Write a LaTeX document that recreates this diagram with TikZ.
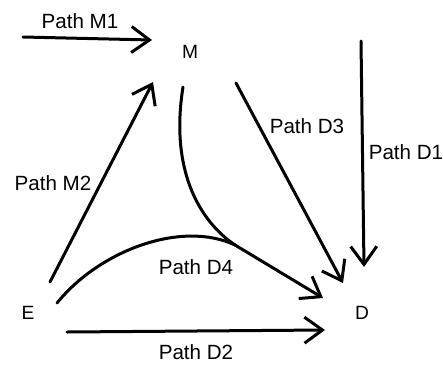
\documentclass[tikz,border=0pt]{standalone}
\usepackage{fontspec}
\setmainfont{Liberation Sans}
\usetikzlibrary{arrows.meta,calc}
\begin{document}
\begin{tikzpicture}[x=0.5pt,y=-0.5pt,
  vtx/.style={inner sep=0pt,font=\fontsize{9.6}{11}\selectfont},
  lbl/.style={inner sep=0pt,font=\fontsize{10.3}{12}\selectfont},
  arr/.style={line width=1.5pt,line cap=round,-{Straight Barb[length=9pt,width=13pt,line width=1.5pt]}},
  ln/.style={line width=1.5pt,line cap=round}]
\useasboundingbox (0,0) rectangle (443,364);
\node[vtx] (M) at (190,52) {M};
\node[vtx] (E) at (28,313) {E};
\node[vtx] (D) at (362,313) {D};
\coordinate (m1s) at (23,37);
\coordinate (d1s) at (361,41);
\coordinate (j) at (235,245);
% connectors
\draw[arr] (m1s) -- ($(M)+(-38,-12)$);
\draw[arr] ($(E)+(22,-31)$) -- ($(M)+(-37,30)$);
\draw[arr] ($(M)+(46,31)$) -- ($(D)+(-19,-30)$);
\draw[arr] (d1s) -- ($(D)+(2,-46)$);
\draw[arr] ($(E)+(39,19)$) -- ($(D)+(-37,17)$);
\draw[ln] ($(E)+(29,-10)$) .. controls (100,250) and (182,220) .. (j);
\draw[ln] ($(M)+(-7,35)$) .. controls (170,168) and (198,220) .. (j);
\draw[arr] (j) -- ($(D)+(-39,-15)$);
% labels
\node[lbl] (lm1) at (80,21) {Path M1};
\node[lbl] (ld1) at (406,152) {Path D1};
\node[lbl] (ld3) at (307,126) {Path D3};
\node[lbl] (lm2) at (53,183) {Path M2};
\node[lbl] (ld4) at (196,267) {Path D4};
\node[lbl] (ld2) at (196,352) {Path D2};
\end{tikzpicture}
\end{document}
